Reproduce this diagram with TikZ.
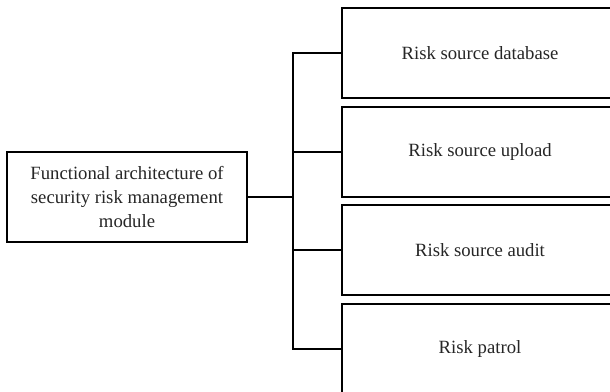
\documentclass[tikz,border=0pt]{standalone}
\usepackage{fontspec}
\setmainfont{Liberation Serif}
\begin{document}
\begin{tikzpicture}[x=1pt,y=1pt,
  box/.style={draw, line width=1.8pt, rectangle, align=center, inner sep=0pt,
    font=\fontsize{18.7}{24}\selectfont, text=black!85},
  leftbox/.style={box, minimum width=240pt, minimum height=90pt},
  rightbox/.style={box, minimum width=276pt, minimum height=90pt},
  link/.style={draw, line width=1.8pt}]
\useasboundingbox (0,0) rectangle (610,391);
\clip (0,0) rectangle (610,391);
\fill[white] (0,0) rectangle (610,391);
\node[leftbox] (L) at (127,194) {Functional architecture of\\security risk management\\module};
\node[rightbox] (b1) at (480,338) {Risk source database};
\node[rightbox] (b2) at (480,239) {Risk source upload};
\node[rightbox] (b3) at (480,141) {Risk source audit};
\node[rightbox] (b4) at (480,42) {Risk patrol};
\coordinate (top) at (293,338);
\coordinate (bot) at (293,42);
\draw[link] (b1.west) -- (top) -- (bot) -- (b4.west);
\draw[link] (L.east) -- (L.east -| top);
\draw[link] (b2.west) -- (b2.west -| top);
\draw[link] (b3.west) -- (b3.west -| top);
\end{tikzpicture}
\end{document}
